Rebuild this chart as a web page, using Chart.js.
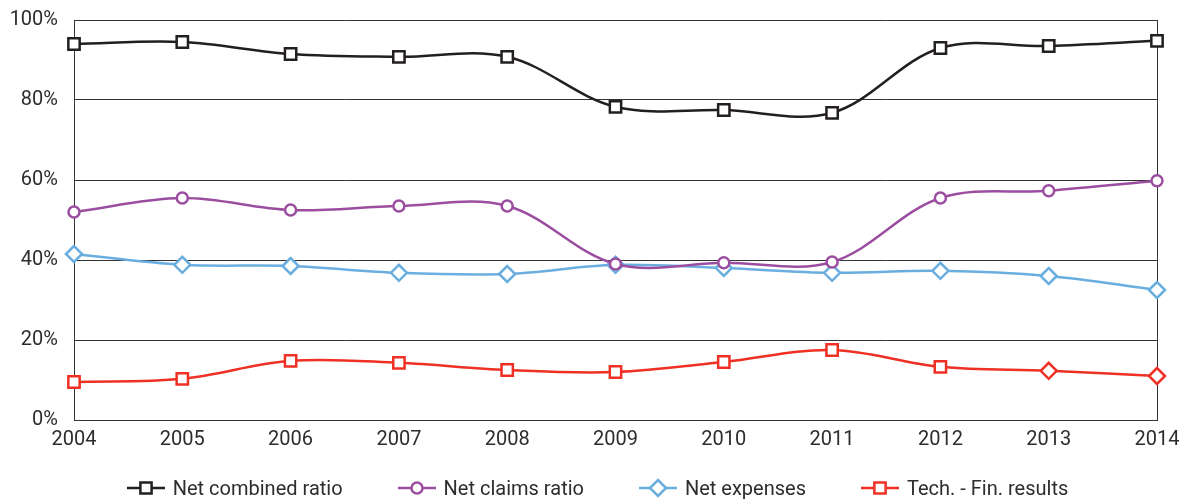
<!DOCTYPE html>
<html>
<head>
<meta charset="utf-8">
<script src="https://cdn.jsdelivr.net/npm/chart.js@4/dist/chart.umd.min.js"></script>
<style>
  body { margin: 0; background: #fff; }
  #wrap { position: relative; width: 1194px; height: 502px; }
  #legend {
    position: absolute; left: 0; top: 476px; width: 1194px;
    display: flex; justify-content: center; align-items: center;
    font-family: Roboto, sans-serif; font-size: 20px; color: #2d2d2d;
  }
  .item { display: flex; align-items: center; margin: 0 27px; }
  .item canvas { margin-right: 7px; }
</style>
</head>
<body>
<div id="wrap">
  <canvas id="chart" width="1194" height="502"></canvas>
  <div id="legend"></div>
</div>
<script>
const years = ['2004', '2005', '2006', '2007', '2008', '2009', '2010', '2011', '2012', '2013', '2014'];
const yTicks = [0, 20, 40, 60, 80, 100];

const netCombined = [94, 94.5, 91.5, 90.8, 90.8, 78.3, 77.5, 76.8, 93, 93.5, 94.8];
const netClaims = [52, 55.5, 52.5, 53.5, 53.5, 39, 39.3, 39.5, 55.5, 57.3, 59.8];
const netExpenses = [41.5, 38.8, 38.5, 36.8, 36.5, 38.8, 38, 36.8, 37.3, 36, 32.5];
const techFin = [9.5, 10.3, 14.8, 14.3, 12.5, 12, 14.5, 17.5, 13.3, 12.3, 11];

const techFinMarkers = ['rect', 'rect', 'rect', 'rect', 'rect', 'rect', 'rect', 'rect', 'rect', 'rectRot', 'rectRot'];

const gridColor = '#333333';
const textColor = '#2d2d2d';

const series = [
    { label: 'Net combined ratio', data: netCombined, color: '#231f20', style: 'rect', radius: 8 },
    { label: 'Net claims ratio', data: netClaims, color: '#9b4ea0', style: 'circle', radius: 5.5 },
    { label: 'Net expenses', data: netExpenses, color: '#6aaee0', style: 'rectRot', radius: 8 },
    { label: 'Tech. - Fin. results', data: techFin, color: '#ee3124', style: techFinMarkers, radius: 8 }
];

new Chart(document.getElementById('chart'), {
    type: 'line',
    data: {
        labels: years,
        datasets: series.map(s => ({
            label: s.label,
            data: s.data,
            borderColor: s.color,
            backgroundColor: '#ffffff',
            borderWidth: 2.5,
            tension: 0.35,
            pointStyle: s.style,
            pointRadius: s.radius,
            pointBorderWidth: 2.5,
            pointBackgroundColor: '#ffffff',
            pointBorderColor: s.color
        }))
    },
    options: {
        responsive: false,
        animation: false,
        layout: { padding: { left: 0, right: 37, top: 20, bottom: 50 } },
        plugins: {
            legend: { display: false },
            tooltip: { enabled: false }
        },
        scales: {
            x: {
                afterFit: (scale) => {
                    scale.height = 32;
                    scale.paddingLeft = 0;
                    scale.paddingRight = 0;
                },
                grid: {
                    drawTicks: false,
                    color: (ctx) => (ctx.index === 0 || ctx.index === years.length - 1) ? gridColor : 'rgba(0,0,0,0)'
                },
                border: { display: true, color: gridColor },
                ticks: {
                    padding: 8,
                    maxRotation: 0,
                    color: textColor,
                    font: { family: 'Roboto', size: 20 }
                }
            },
            y: {
                min: 0,
                max: 100,
                afterFit: (scale) => {
                    scale.width = 74;
                    scale.paddingTop = 0;
                    scale.paddingBottom = 0;
                },
                afterBuildTicks: (scale) => { scale.ticks = yTicks.map(v => ({ value: v })); },
                grid: { drawTicks: false, color: gridColor },
                border: { display: true, color: gridColor },
                ticks: {
                    padding: 16,
                    color: textColor,
                    font: { family: 'Roboto', size: 20 },
                    callback: (v) => v + '%'
                }
            }
        }
    }
});

// legend: line with marker, then label
function drawIcon(cv, s) {
    const ctx = cv.getContext('2d');
    const style = Array.isArray(s.style) ? s.style[0] : s.style;
    const cx = 20, cy = 10;
    ctx.strokeStyle = s.color;
    ctx.lineWidth = 2.5;
    ctx.beginPath();
    ctx.moveTo(1, cy);
    ctx.lineTo(39, cy);
    ctx.stroke();
    ctx.fillStyle = '#ffffff';
    ctx.beginPath();
    if (style === 'circle') {
        ctx.arc(cx, cy, 5.5, 0, Math.PI * 2);
    } else if (style === 'rectRot') {
        ctx.moveTo(cx, cy - 8);
        ctx.lineTo(cx + 8, cy);
        ctx.lineTo(cx, cy + 8);
        ctx.lineTo(cx - 8, cy);
        ctx.closePath();
    } else {
        ctx.rect(cx - 5.6, cy - 5.6, 11.2, 11.2);
    }
    ctx.fill();
    ctx.stroke();
}

const legendEl = document.getElementById('legend');
series.forEach(s => {
    const item = document.createElement('div');
    item.className = 'item';
    const cv = document.createElement('canvas');
    cv.width = 40;
    cv.height = 20;
    drawIcon(cv, s);
    const span = document.createElement('span');
    span.textContent = s.label;
    item.appendChild(cv);
    item.appendChild(span);
    legendEl.appendChild(item);
});
</script>
</body>
</html>
